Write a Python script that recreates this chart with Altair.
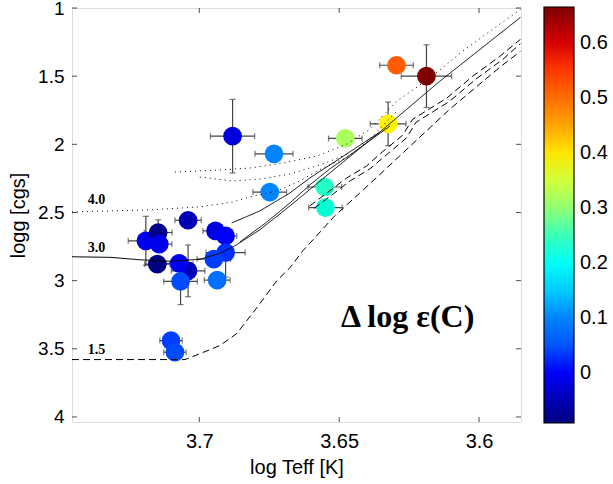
import altair as alt
import pandas as pd
import numpy as np

# ---------------- data ----------------
teff = [3.6881, 3.6733, 3.6748, 3.7040, 3.7191, 3.7147, 3.7143, 3.7150, 3.7040, 3.7072,
        3.7067, 3.6942, 3.6906, 3.6906, 3.6948, 3.6936, 3.7101, 3.7087, 3.6295, 3.6188,
        3.6325, 3.6478, 3.6551, 3.6549]
logg = [1.94, 2.07, 2.35, 2.557, 2.708, 2.647, 2.732, 2.879, 2.928, 2.874,
        3.006, 2.635, 2.672, 2.794, 2.842, 2.996, 3.44, 3.525, 1.42, 1.50,
        1.85, 1.957, 2.313, 2.464]
dC = [-0.02, 0.10, 0.10, -0.05, -0.01, -0.085, -0.01, -0.09, -0.05, -0.01,
      0.04, -0.02, 0.0, 0.02, 0.03, 0.076, 0.03, 0.04, 0.52, 0.665,
      0.39, 0.32, 0.24, 0.23]
teff_err = [0.0079, 0.0068, 0.0060, 0.0047, 0.0063, 0.0050, 0.0045, 0.0045, 0.0060, 0.0050,
            0.0060, 0.0045, 0.0040, 0.0070, 0.0060, 0.0046, 0.0040, 0.0040, 0.0060, 0.0090,
            0.0064, 0.0060, 0.0060, 0.0060]
logg_err = [0.27, 0.03, 0.0, 0.0, 0.18, 0.093, 0.0, 0.0, 0.19, 0.0,
            0.17, 0.0, 0.0, 0.18, 0.0, 0.0, 0.0, 0.0, 0.02, 0.23,
            0.16, 0.0, 0.0, 0.03]

# evolutionary tracks (branch name, style, x list, y list)
t30_a_x = [3.7455, 3.7319, 3.7212, 3.7105, 3.6998, 3.6926, 3.6873, 3.6784, 3.6676, 3.6534, 3.6355, 3.6141, 3.5852]
t30_a_y = [2.825, 2.829, 2.847, 2.858, 2.843, 2.800, 2.745, 2.628, 2.452, 2.211, 1.911, 1.538, 1.069]
t30_b_x = [3.6855, 3.6762, 3.6676, 3.6605, 3.6534, 3.6462, 3.6319]
t30_b_y = [2.716, 2.576, 2.430, 2.298, 2.181, 2.079, 1.867]
t30_c_x = [3.6884, 3.6784, 3.6676, 3.6605, 3.6512, 3.6355]
t30_c_y = [2.577, 2.489, 2.357, 2.247, 2.123, 1.911]

t15_a_x = [3.7455, 3.7051, 3.6987, 3.6926, 3.6866, 3.6794, 3.6723, 3.6676, 3.6630, 3.6587,
           3.6516, 3.6426, 3.6284, 3.6105, 3.5926, 3.5852]
t15_a_y = [3.579, 3.579, 3.527, 3.476, 3.388, 3.198, 3.001, 2.906, 2.781, 2.686,
           2.525, 2.357, 2.086, 1.743, 1.435, 1.318]
t15_b_x = [3.6605, 3.6534, 3.6473, 3.6402, 3.6355, 3.6273, 3.6237, 3.6116, 3.6023, 3.5926, 3.5852]
t15_b_y = [2.452, 2.342, 2.247, 2.159, 2.072, 1.933, 1.816, 1.662, 1.501, 1.355, 1.230]
t15_c_x = [3.6590, 3.6520, 3.6460, 3.6390, 3.6340, 3.6260, 3.6225, 3.6105, 3.6012, 3.5915, 3.5852]
t15_c_y = [2.470, 2.362, 2.267, 2.180, 2.093, 1.955, 1.838, 1.684, 1.523, 1.377, 1.262]

t40_a_x = [3.7455, 3.7176, 3.6998, 3.6880, 3.6819, 3.6723, 3.6641, 3.6559, 3.6462, 3.6391, 3.6294]
t40_a_y = [2.496, 2.481, 2.459, 2.423, 2.386, 2.342, 2.269, 2.174, 2.086, 1.962, 1.757]
t40_b_x = [3.7087, 3.6937, 3.6819, 3.6701, 3.6580, 3.6473, 3.6391, 3.6294, 3.6177, 3.6059, 3.5962, 3.5852]
t40_b_y = [2.203, 2.189, 2.174, 2.138, 2.086, 1.999, 1.889, 1.684, 1.516, 1.318, 1.172, 1.011]
t40_c_x = [3.6998, 3.6880, 3.6784, 3.6676, 3.6559, 3.6462]
t40_c_y = [2.240, 2.269, 2.255, 2.218, 2.145, 2.064]

track_labels = ["4.0", "3.0", "1.5"]
track_label_x = [3.7367, 3.7367, 3.7367]
track_label_y = [2.410, 2.764, 3.508]

x_ticks = [3.7, 3.65, 3.6]
y_ticks = [1, 1.5, 2, 2.5, 3, 3.5, 4]
cb_ticks = [0, 0.1, 0.2, 0.3, 0.4, 0.5, 0.6]

x_domain = [3.585, 3.7455]
y_domain = [1.0, 4.037]
c_min, c_max = -0.0915, 0.665
jet = ["#000080", "#0000FF", "#0080FF", "#00FFFF", "#80FF80",
       "#FFFF00", "#FF8000", "#FF0000", "#800000"]

# ---------------- tables ----------------
stars = pd.DataFrame({"teff": teff, "logg": logg, "dC": dC,
                      "ex": teff_err, "ey": logg_err})
stars["xlo"] = stars.teff - stars.ex
stars["xhi"] = stars.teff + stars.ex
stars["ylo"] = stars.logg - stars.ey
stars["yhi"] = stars.logg + stars.ey
stars_y = stars[stars.ey > 0]

branches = [("t30a", "solid", t30_a_x, t30_a_y), ("t30b", "solid", t30_b_x, t30_b_y),
            ("t30c", "solid", t30_c_x, t30_c_y),
            ("t15a", "dashed", t15_a_x, t15_a_y), ("t15b", "dashed", t15_b_x, t15_b_y),
            ("t15c", "dashed", t15_c_x, t15_c_y),
            ("t40a", "dotted", t40_a_x, t40_a_y), ("t40b", "dotted", t40_b_x, t40_b_y),
            ("t40c", "dotted", t40_c_x, t40_c_y)]
rows = []
for name, style, xs, ys in branches:
    for i, (a, b) in enumerate(zip(xs, ys)):
        rows.append({"branch": name, "style": style, "x": a, "y": b, "o": i})
tracks = pd.DataFrame(rows)

labels = pd.DataFrame({"t": track_labels, "x": track_label_x, "y": track_label_y})
big = pd.DataFrame({"t": ["Δ log ε(C)"], "x": [3.6255], "y": [3.264]})

W, H = 449, 414
TOP, LEFT = 8, 72
FONT = "Liberation Sans"

xscale = alt.Scale(domain=x_domain, reverse=True, nice=False, zero=False)
yscale = alt.Scale(domain=y_domain, reverse=True, nice=False, zero=False)
xaxis = alt.Axis(values=x_ticks, format="~g", ticks=False, tickSize=0, domain=False, grid=False,
                 labelPadding=9, labelFontSize=20, labelFont=FONT, labelColor="black",
                 titleFontSize=20, titleFont=FONT, titleColor="black", titleFontWeight="normal",
                 titlePadding=6)
yaxis = alt.Axis(values=y_ticks, format="~g", ticks=False, tickSize=0, domain=False, grid=False,
                 labelPadding=8, labelFontSize=19, labelFont=FONT, labelColor="black",
                 titleFontSize=20, titleFont=FONT, titleColor="black", titleFontWeight="normal",
                 titlePadding=9)

XT = "log Teff [K]"
YT = "logg [cgs]"

def X(f):
    return alt.X(f, type="quantitative", scale=xscale, axis=xaxis, title=XT)

def Y(f):
    return alt.Y(f, type="quantitative", scale=yscale, axis=yaxis, title=YT)

ebar_col = "#454545"
xerr = alt.Chart(stars).mark_rule(color=ebar_col, strokeWidth=1.2).encode(
    x=X("xlo"), x2="xhi", y=Y("logg"))
xcap1 = alt.Chart(stars).mark_tick(color=ebar_col, orient="vertical", size=6, thickness=1.2).encode(
    x=X("xlo"), y=Y("logg"))
xcap2 = alt.Chart(stars).mark_tick(color=ebar_col, orient="vertical", size=6, thickness=1.2).encode(
    x=X("xhi"), y=Y("logg"))
yerr = alt.Chart(stars_y).mark_rule(color=ebar_col, strokeWidth=1.2).encode(
    x=X("teff"), y=Y("ylo"), y2="yhi")
ycap1 = alt.Chart(stars_y).mark_tick(color=ebar_col, orient="horizontal", size=6, thickness=1.2).encode(
    x=X("teff"), y=Y("ylo"))
ycap2 = alt.Chart(stars_y).mark_tick(color=ebar_col, orient="horizontal", size=6, thickness=1.2).encode(
    x=X("teff"), y=Y("yhi"))

cdom = list(np.linspace(c_min, c_max, len(jet)))
points = alt.Chart(stars).mark_circle(size=350, opacity=1).encode(
    x=X("teff"), y=Y("logg"),
    color=alt.Color("dC:Q", scale=alt.Scale(domain=cdom, range=jet, clamp=True),
                    legend=alt.Legend(title=None, orient="none", legendX=472, legendY=-1,
                                      direction="vertical", gradientLength=416,
                                      gradientThickness=30, values=cb_ticks, format="~g",
                                      labelFontSize=20, labelFont=FONT, labelColor="black",
                                      labelOffset=6, gradientStrokeColor="black",
                                      gradientStrokeWidth=1.2)))

lines = alt.Chart(tracks).mark_line(color="black", strokeWidth=1, clip=True).encode(
    x=X("x"), y=Y("y"), detail="branch:N", order="o:Q",
    strokeDash=alt.StrokeDash("style:N",
                              scale=alt.Scale(domain=["solid", "dashed", "dotted"],
                                              range=[[1, 0], [7, 4], [1, 4]]),
                              legend=None))

lab = alt.Chart(labels).mark_text(font="Liberation Serif", fontWeight="bold", fontSize=14,
                                  color="black").encode(x=X("x"), y=Y("y"), text="t:N")
bigtxt = alt.Chart(big).mark_text(font="Liberation Serif", fontWeight="bold", fontSize=32,
                                  color="black").encode(x=X("x"), y=Y("y"), text="t:N")

ytk = pd.DataFrame({"v": y_ticks})
xtk = pd.DataFrame({"v": x_ticks})
tk_l = alt.Chart(ytk).mark_tick(color="black", orient="horizontal", size=5, thickness=1).encode(
    y=Y("v"), x=alt.value(2.5))
tk_r = alt.Chart(ytk).mark_tick(color="black", orient="horizontal", size=5, thickness=1).encode(
    y=Y("v"), x=alt.value(W - 2.5))
tk_b = alt.Chart(xtk).mark_tick(color="black", orient="vertical", size=5, thickness=1).encode(
    x=X("v"), y=alt.value(H - 2.5))
tk_t = alt.Chart(xtk).mark_tick(color="black", orient="vertical", size=5, thickness=1).encode(
    x=X("v"), y=alt.value(2.5))

chart = alt.layer(xerr, xcap1, xcap2, yerr, ycap1, ycap2, points, lines, lab, bigtxt,
                  tk_l, tk_r, tk_b, tk_t).properties(
    width=W, height=H,
    autosize=alt.AutoSizeParams(type="none"),
    padding={"left": LEFT, "top": TOP, "right": 613 - LEFT - W, "bottom": 484 - TOP - H},
).configure_view(stroke="black", strokeWidth=1.6).configure(background="white")

chart.save("out.html", embed_options={"renderer": "svg", "actions": False})
